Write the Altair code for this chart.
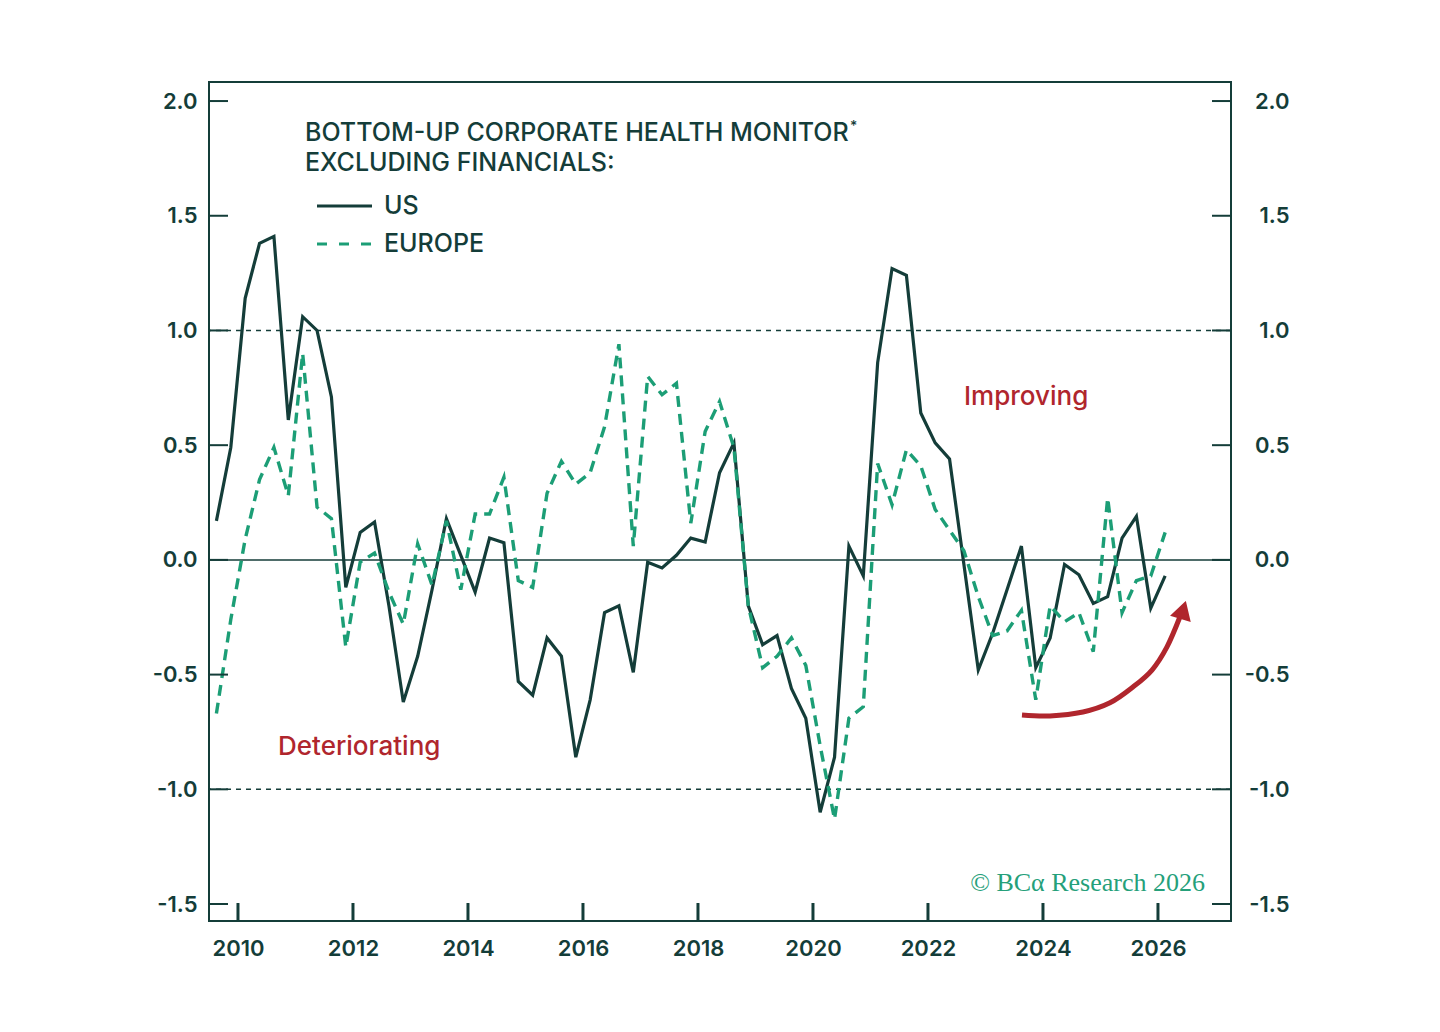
import altair as alt
import pandas as pd

# ---------------- data ----------------
quarters = [2009.625 + 0.25 * k for k in range(67)]
us = [0.17, 0.49, 1.14, 1.38, 1.41, 0.61, 1.06, 1.00, 0.71, -0.12,
      0.12, 0.165, -0.20, -0.62, -0.42, -0.13, 0.18, 0.02, -0.14, 0.095,
      0.075, -0.53, -0.59, -0.34, -0.42, -0.86, -0.61, -0.23, -0.20, -0.49,
      -0.01, -0.035, 0.02, 0.095, 0.078, 0.38, 0.51, -0.20, -0.37, -0.33,
      -0.56, -0.69, -1.10, -0.86, 0.06, -0.07, 0.86, 1.27, 1.24, 0.64,
      0.51, 0.44, -0.02, -0.48, -0.32, -0.13, 0.06, -0.47, -0.34, -0.02,
      -0.065, -0.19, -0.16, 0.095, 0.19, -0.21, -0.07]
europe = [-0.67, -0.26, 0.09, 0.35, 0.49, 0.28, 0.90, 0.23, 0.18, -0.38,
          -0.01, 0.03, -0.14, -0.28, 0.07, -0.11, 0.17, -0.13, 0.20, 0.20,
          0.36, -0.09, -0.12, 0.29, 0.43, 0.33, 0.38, 0.58, 0.94, 0.06,
          0.80, 0.72, 0.77, 0.16, 0.56, 0.69, 0.49, -0.20, -0.47, -0.42,
          -0.34, -0.46, -0.81, -1.13, -0.69, -0.64, 0.42, 0.24, 0.48, 0.41,
          0.22, 0.13, 0.04, -0.16, -0.33, -0.31, -0.22, -0.61, -0.20, -0.27,
          -0.23, -0.40, 0.27, -0.23, -0.09, -0.07, 0.12]
tick_years = [2010, 2012, 2014, 2016, 2018, 2020, 2022, 2024, 2026]
y_ticks = [-1.5, -1.0, -0.5, 0.0, 0.5, 1.0, 1.5, 2.0]
band_levels = [1.0, -1.0]
arrow_t = [2023.635, 2024.122, 2024.696, 2025.165, 2025.565, 2025.896, 2026.157, 2026.383]
arrow_v = [-0.676, -0.680, -0.663, -0.623, -0.554, -0.480, -0.379, -0.248]
arrow_head_t = [2026.435]
arrow_head_v = [-0.22]

# ---------------- style ----------------
DARK = "#143d39"
GREEN = "#1c9e76"
RED = "#b0262d"
FONT = "Inter"
W, H = 1022, 839
xs = alt.Scale(domain=[2009.496, 2027.27], nice=False, zero=False)
ys = alt.Scale(domain=[-1.574, 2.083], nice=False, zero=False)

us_df = pd.DataFrame({"t": quarters, "v": us})
eu_df = pd.DataFrame({"t": quarters, "v": europe})

label_style = dict(labelFont=FONT, labelFontSize=22, labelFontWeight=600,
                   labelColor=DARK, domain=False, ticks=False, grid=False, title=None)
ylab = "replace(format(datum.value, '.1f'), '\u2212', '-')"

x_axis = alt.Axis(values=tick_years, format="d", labelPadding=17, **label_style)


def X(field):
    return alt.X(field, scale=xs, axis=x_axis)


us_line = alt.Chart(us_df).mark_line(stroke=DARK, strokeWidth=3.2).encode(
    x=X("t:Q"),
    y=alt.Y("v:Q", scale=ys,
            axis=alt.Axis(orient="left", values=y_ticks, labelExpr=ylab,
                          labelPadding=12, labelAlign="right", **label_style)),
)
eu_line = alt.Chart(eu_df).mark_line(stroke=GREEN, strokeWidth=3.4, strokeDash=[11, 7]).encode(
    x=X("t:Q"),
    y=alt.Y("v:Q", scale=ys, axis=None),
)

zero_rule = alt.Chart(pd.DataFrame({"y": [0.0]})).mark_rule(stroke=DARK, strokeWidth=1.5).encode(
    y=alt.Y("y:Q", scale=ys, axis=None))
band_rules = alt.Chart(pd.DataFrame({"y": band_levels})).mark_rule(
    stroke=DARK, strokeWidth=1.5, strokeDash=[5, 5]).encode(
    y=alt.Y("y:Q", scale=ys, axis=None))

ytick_df = pd.DataFrame({"y": y_ticks})
left_ticks = alt.Chart(ytick_df).mark_rule(stroke=DARK, strokeWidth=2).encode(
    y=alt.Y("y:Q", scale=ys, axis=None), x=alt.value(0), x2=alt.value(19))
right_ticks = alt.Chart(ytick_df).mark_rule(stroke=DARK, strokeWidth=2).encode(
    y=alt.Y("y:Q", scale=ys,
            axis=alt.Axis(orient="right", values=y_ticks, labelExpr=ylab,
                          labelPadding=58, labelAlign="right", **label_style)),
    x=alt.value(W - 19), x2=alt.value(W))
x_ticks = alt.Chart(pd.DataFrame({"x": tick_years})).mark_rule(stroke=DARK, strokeWidth=3).encode(
    x=X("x:Q"), y=alt.value(H - 18), y2=alt.value(H))

arrow = alt.Chart(pd.DataFrame({"t": arrow_t, "v": arrow_v})).mark_line(
    stroke=RED, strokeWidth=5, interpolate="cardinal", strokeCap="butt").encode(
    x=X("t:Q"), y=alt.Y("v:Q", scale=ys, axis=None))
arrow_head = alt.Chart(pd.DataFrame({"t": arrow_head_t, "v": arrow_head_v})).mark_point(
    shape="triangle-up", filled=True, fill=RED, stroke=RED, opacity=1, size=330, angle=17).encode(
    x=X("t:Q"), y=alt.Y("v:Q", scale=ys, axis=None))

one = pd.DataFrame({"a": [0]})


def txt(text, x, y, size=25, color=DARK, weight=500, font=FONT, align="left"):
    return alt.Chart(one).mark_text(
        text=text, align=align, baseline="middle", font=font, fontSize=size,
        fontWeight=weight, color=color).encode(x=alt.value(x), y=alt.value(y))


title1 = txt("BOTTOM-UP CORPORATE HEALTH MONITOR", 96, 51)
star = txt("*", 641, 45, size=14)
title2 = txt("EXCLUDING FINANCIALS:", 96, 81)
leg_us_line = alt.Chart(one).mark_rule(stroke=DARK, strokeWidth=3).encode(
    x=alt.value(108), x2=alt.value(163), y=alt.value(124))
leg_eu_line = alt.Chart(one).mark_rule(stroke=GREEN, strokeWidth=3, strokeDash=[10, 12]).encode(
    x=alt.value(108), x2=alt.value(163), y=alt.value(162))
leg_us = txt("US", 175, 124)
leg_eu = txt("EUROPE", 175, 162)
improving = txt("Improving", 755, 315, size=26, color=RED)
deteriorating = txt("Deteriorating", 69, 665, size=26, color=RED)
copyright_ = txt("© BCα Research 2026", 996, 801, size=26, color="#25a07a",
                 weight=400, font="Liberation Serif", align="right")

chart = alt.layer(
    band_rules, zero_rule, us_line, eu_line, left_ticks, right_ticks, x_ticks,
    arrow, arrow_head, title1, star, title2, leg_us_line, leg_eu_line, leg_us, leg_eu,
    improving, deteriorating, copyright_,
).resolve_axis(y="independent").properties(
    width=W, height=H,
    autosize=alt.AutoSizeParams(type="none"),
    padding={"left": 201, "top": 74, "right": 200, "bottom": 100},
    background="white",
).configure_view(stroke=DARK, strokeWidth=2)

chart.save("out.html", embed_options={"renderer": "svg", "actions": False})
